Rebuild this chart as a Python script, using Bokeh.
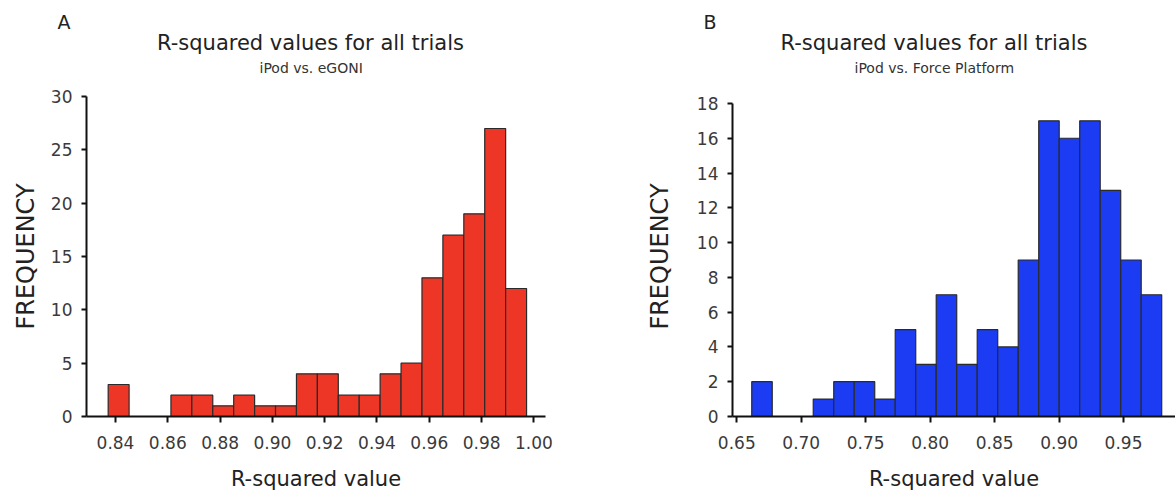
from bokeh.plotting import figure
from bokeh.layouts import row
from bokeh.models import Title, FixedTicker, NumeralTickFormatter, Range1d
from bokeh.embed import file_html
from bokeh.resources import INLINE

FONT = "DejaVu Sans"

title_text = "R-squared values for all trials"
x_label = "R-squared value"
y_label = "FREQUENCY"

# Panel A: iPod vs. eGONI
a_panel = "A"
a_subtitle = "iPod vs. eGONI"
a_edges = [0.8372, 0.8452, 0.8532, 0.8612, 0.8692, 0.8772, 0.8852, 0.8932,
           0.9012, 0.9092, 0.9172, 0.9252, 0.9332, 0.9412, 0.9492, 0.9572,
           0.9652, 0.9732, 0.9812, 0.9892, 0.9972]
a_counts = [3, 0, 0, 2, 2, 1, 2, 1, 1, 4, 4, 2, 2, 4, 5, 13, 17, 19, 27, 12]
a_xticks = [0.84, 0.86, 0.88, 0.90, 0.92, 0.94, 0.96, 0.98, 1.00]
a_yticks = [0, 5, 10, 15, 20, 25, 30]

# Panel B: iPod vs. Force Platform
b_panel = "B"
b_subtitle = "iPod vs. Force Platform"
b_edges = [0.6616, 0.6775, 0.6934, 0.7093, 0.7252, 0.7411, 0.7570, 0.7729,
           0.7888, 0.8047, 0.8206, 0.8365, 0.8524, 0.8683, 0.8842, 0.9001,
           0.9160, 0.9319, 0.9478, 0.9637, 0.9796]
b_counts = [2, 0, 0, 1, 2, 2, 1, 5, 3, 7, 3, 5, 4, 9, 17, 16, 17, 13, 9, 7]
b_xticks = [0.65, 0.70, 0.75, 0.80, 0.85, 0.90, 0.95]
b_yticks = [0, 2, 4, 6, 8, 10, 12, 14, 16, 18]


def make_panel(width, bl, br, xr, yr, ybounds, edges, counts, xticks, yticks,
               color, panel, subtitle, title_off, sub_off, letter_off, ylab_standoff):
    p = figure(width=width, height=496, output_backend="svg", toolbar_location=None,
               title=None,
               x_range=Range1d(*xr), y_range=Range1d(*yr),
               min_border_left=bl, min_border_right=br,
               min_border_top=96, min_border_bottom=80)
    p.outline_line_color = None
    p.grid.visible = False
    p.background_fill_color = "white"
    p.border_fill_color = "white"

    p.quad(left=edges[:-1], right=edges[1:], bottom=0, top=counts,
           fill_color=color, line_color="#2a2a2a", line_width=1.2)

    for ax in (p.xaxis[0], p.yaxis[0]):
        ax.axis_line_width = 2
        ax.axis_line_color = "#111111"
        ax.major_tick_line_width = 2
        ax.major_tick_line_color = "#111111"
        ax.major_tick_in = 0
        ax.minor_tick_line_color = None
        ax.major_label_text_font = FONT
        ax.major_label_text_font_size = "17px"
        ax.major_label_text_color = "#3a3a3a"
        ax.axis_label_text_font = FONT
        ax.axis_label_text_font_style = "normal"
        ax.axis_label_text_color = "#222222"

    p.xaxis.ticker = FixedTicker(ticks=xticks)
    p.xaxis.formatter = NumeralTickFormatter(format="0.00")
    p.xaxis.major_tick_out = 6
    p.xaxis.major_label_standoff = 13
    p.xaxis.axis_label = x_label
    p.xaxis.axis_label_text_font_size = "21px"
    p.xaxis.axis_label_standoff = 15

    p.yaxis.ticker = FixedTicker(ticks=yticks)
    p.yaxis.bounds = ybounds
    p.yaxis.major_tick_out = 5
    p.yaxis.major_label_standoff = 9
    p.yaxis.axis_label = y_label
    p.yaxis.axis_label_text_font_size = "24px"
    p.yaxis.axis_label_standoff = ylab_standoff

    # stacked from the frame outward: subtitle, title, panel letter
    p.add_layout(Title(text=subtitle, align="left", offset=sub_off,
                       text_font=FONT, text_font_size="14px", text_font_style="normal",
                       text_color="#333333", standoff=40.7), "above")
    p.add_layout(Title(text=title_text, align="left", offset=title_off,
                       text_font=FONT, text_font_size="21px", text_font_style="normal",
                       text_color="#222222", standoff=-34.9), "above")
    p.add_layout(Title(text=panel, align="left", offset=letter_off,
                       text_font=FONT, text_font_size="19px", text_font_style="normal",
                       text_color="#222222", standoff=10), "above")
    return p


pa = make_panel(590, 86, 45, (0.82891, 1.00444), (0, 30), (0, 30),
                a_edges, a_counts, a_xticks, a_yticks, "#EE3627",
                a_panel, a_subtitle, 70.5, 173, -29, 8)
pb = make_panel(585, 142, 0, (0.64667, 0.9903), (0, 18.40), (0, 18),
                b_edges, b_counts, b_xticks, b_yticks, "#1B3CF2",
                b_panel, b_subtitle, 48, 122, -29, 20)

layout = row(pa, pb, spacing=0)
open("out.html", "w").write(file_html(layout, INLINE))
